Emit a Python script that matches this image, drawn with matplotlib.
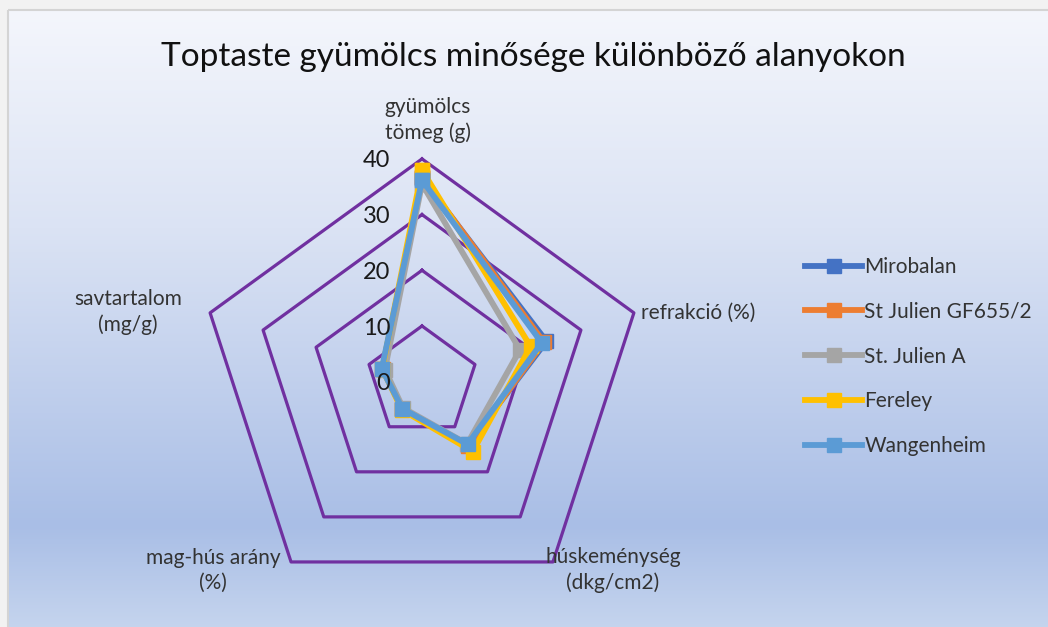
import numpy as np
import matplotlib
matplotlib.use("Agg")
import matplotlib.pyplot as plt
from matplotlib.colors import LinearSegmentedColormap
from matplotlib.patches import Rectangle

# ---------------- data ----------------
categories = ["gyümölcs\ntömeg (g)", "refrakció (%)", "húskeménység\n(dkg/cm2)",
              "mag-hús arány\n(%)", "savtartalom\n(mg/g)"]
series_names = ["Mirobalan", "St Julien GF655/2", "St. Julien A", "Fereley", "Wangenheim"]
mirobalan = [36.5, 23.5, 14.0, 6.0, 7.5]
st_julien_gf655 = [36.8, 23.0, 14.2, 6.0, 7.3]
st_julien_a = [35.5, 18.5, 13.8, 5.8, 7.0]
fereley = [38.0, 20.5, 15.5, 6.2, 7.5]
wangenheim = [36.2, 22.6, 13.9, 6.0, 7.6]
radial_ticks = [0, 10, 20, 30, 40]
title = "Toptaste gyümölcs minősége különböző alanyokon"

series_values = [mirobalan, st_julien_gf655, st_julien_a, fereley, wangenheim]
colors = ["#4472C4", "#ED7D31", "#A5A5A5", "#FFC000", "#5B9BD5"]

plt.rcParams['font.family'] = ['Lato', 'DejaVu Sans']

W, H = 1048, 627
fig = plt.figure(figsize=(W / 100, H / 100), dpi=100)
fig.patch.set_facecolor("#f2f2f2")

# ---------------- background ----------------
bg = fig.add_axes([0, 0, 1, 1], zorder=-5)
bg.set_xlim(0, W)
bg.set_ylim(H, 0)
bg.axis("off")
cmap = LinearSegmentedColormap.from_list(
    "bg", [(0.0, "#f4f6fc"), (0.35, "#dbe3f4"), (0.83, "#a9bee6"), (1.0, "#c6d5ee")])
grad = np.linspace(0, 1, 256).reshape(-1, 1)
bg.imshow(grad, cmap=cmap, aspect="auto", extent=(8, W + 5, H + 5, 10), origin="upper")
bg.add_patch(Rectangle((8, 10), W, H, fill=False, edgecolor="#d4d4d4", lw=1.5))

# ---------------- radar ----------------
cx, cy, R = 422, 381.7, 222.8
ax = fig.add_axes([(cx - R) / W, 1 - (cy + R) / H, 2 * R / W, 2 * R / H], projection="polar")
ax.patch.set_alpha(0)
ax.set_theta_offset(np.pi / 2)
ax.set_theta_direction(-1)
ax.spines["polar"].set_visible(False)
ax.grid(False)
ax.set_xticks([])
ax.set_yticks([])
ax.set_ylim(0, radial_ticks[-1])

n = len(categories)
theta = np.linspace(0, 2 * np.pi, n, endpoint=False)
theta_c = np.append(theta, theta[0])

for r in radial_ticks[1:]:
    ax.plot(theta_c, [r] * (n + 1), color="#7030A0", lw=2.3, zorder=1, clip_on=False)

handles = []
for name, vals, col in zip(series_names, series_values, colors):
    v = np.append(vals, vals[0])
    h, = ax.plot(theta_c, v, color=col, lw=4.2, marker="s", ms=10.5, label=name,
                 zorder=3, clip_on=False, solid_joinstyle="round")
    handles.append(h)

for v in radial_ticks:
    ax.annotate(str(v), xy=(0, v), xytext=(-23, -1.5), textcoords="offset points",
                ha="right", va="center", fontsize=17, color="#1a1a1a")

# category labels (pixel positions of label centers)
label_pos = [(428, 120, "center"), (641, 313, "left"), (613, 570, "center"),
             (213, 570, "center"), (128, 312, "center")]
for text, (px, py, ha) in zip(categories, label_pos):
    fig.text(px / W, 1 - py / H, text, ha=ha, va="center", fontsize=15,
             color="#333333", linespacing=1.3, multialignment="center")

fig.text(533 / W, 1 - 57 / H, title, ha="center", va="center", fontsize=24, color="#111111")

leg = fig.legend(handles, series_names, loc="upper left",
                 bbox_to_anchor=(805 / W, 1 - 257 / H), frameon=False,
                 fontsize=15, handlelength=2.75, handletextpad=0.1,
                 labelspacing=1.19, borderpad=0, borderaxespad=0, markerscale=0.9)
for t in leg.get_texts():
    t.set_color("#333333")

fig.savefig("out.png", dpi=100, facecolor=fig.get_facecolor())
